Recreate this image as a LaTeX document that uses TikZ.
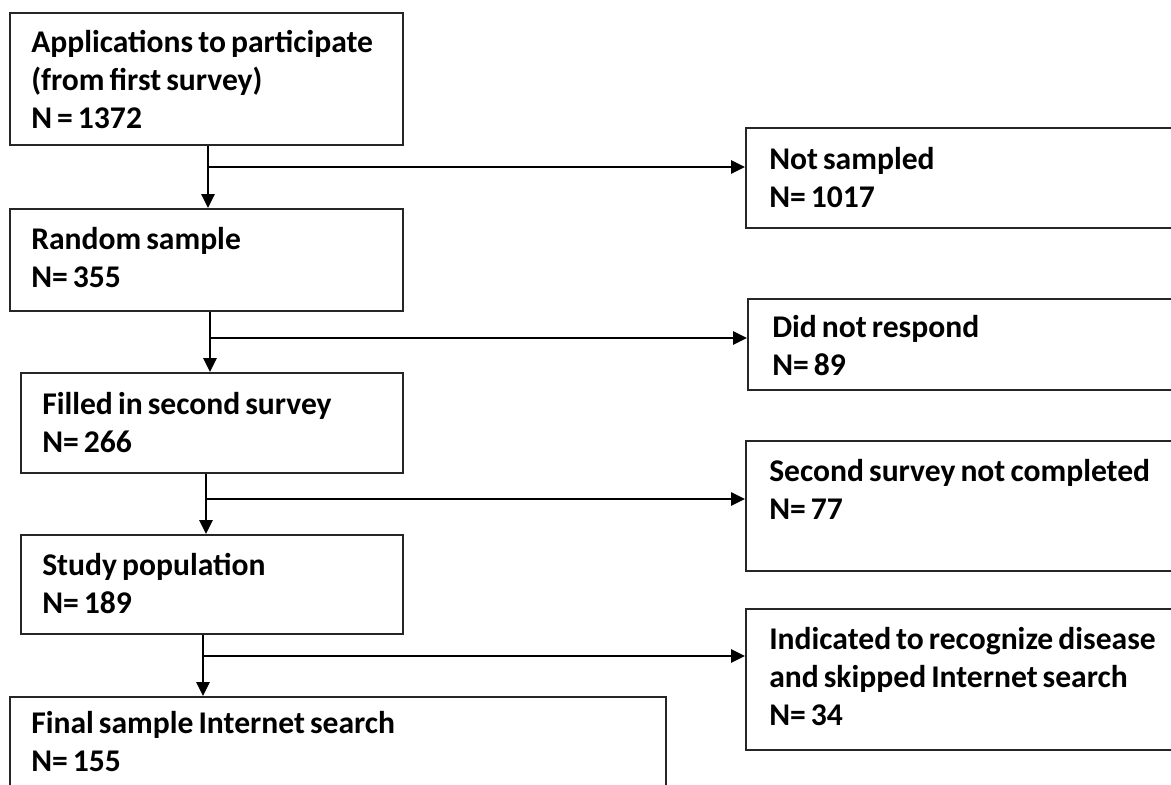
\documentclass[tikz,border=0pt]{standalone}
\usepackage{fontspec}
\setmainfont{Carlito}
\usetikzlibrary{arrows.meta,calc}
\newcommand\myboxfont{\fontsize{23.7pt}{28.5pt}\selectfont\bfseries\spaceskip=0.16em plus 0.05em\relax}
\begin{document}
\begin{tikzpicture}[x=0.75pt,y=-0.75pt,
  box/.style={draw=black!85,line width=1.3pt,inner sep=0pt,anchor=north west},
  txt/.style={anchor=base west,inner sep=0pt,align=left,font=\myboxfont},
  arr/.style={draw=black,line width=1.3pt,-{Triangle[length=10.5pt,width=10pt]}}]
\clip (0,0) rectangle (1171,785);
\fill[white] (0,0) rectangle (1171,785);
% left boxes
\node[box,minimum width=294.75pt,minimum height=99pt] (A) at (9,12) {};
\node[box,minimum width=294.75pt,minimum height=76.5pt] (B) at (9,208) {};
\node[box,minimum width=286.5pt,minimum height=75pt] (C) at (20,372) {};
\node[box,minimum width=286.5pt,minimum height=74.25pt] (D) at (20,534) {};
\node[box,minimum width=492pt,minimum height=90pt] (E) at (9,696) {};
% right boxes
\node[box,minimum width=330pt,minimum height=75pt] (R1) at (745,127) {};
\node[box,minimum width=330pt,minimum height=68.25pt] (R2) at (747,298) {};
\node[box,minimum width=330pt,minimum height=97.5pt] (R3) at (745,440) {};
\node[box,minimum width=330pt,minimum height=105.75pt] (R4) at (745,608) {};
% texts (anchored at the baseline of their last line)
\node[txt] (tA) at (31,128) {Applications to participate\\(from first survey)\\N = 1372};
\node[txt] (tB) at (31,287) {Random sample\\N= 355};
\node[txt] (tC) at (42,452) {Filled in second survey\\N= 266};
\node[txt] (tD) at (42,613) {Study population\\N= 189};
\node[txt] (tE) at (31,771) {Final sample Internet search\\N= 155};
\node[txt] (tR1) at (769,207) {Not sampled\\N= 1017};
\node[txt] (tR2) at (772,375) {Did not respond\\N= 89};
\node[txt] (tR3) at (769,519) {Second survey not completed\\N= 77};
\node[txt] (tR4) at (769,725) {Indicated to recognize disease\\and skipped Internet search\\N= 34};
% branch points
\coordinate (b1) at (208,167);
\coordinate (b2) at (210,338);
\coordinate (b3) at (206,499);
\coordinate (b4) at (203,656);
% connectors
\draw[arr] (A.south -| b1) -- (B.north -| b1);
\draw[arr] (b1) -- (b1 -| R1.west);
\draw[arr] (B.south -| b2) -- (C.north -| b2);
\draw[arr] (b2) -- (b2 -| R2.west);
\draw[arr] (C.south -| b3) -- (D.north -| b3);
\draw[arr] (b3) -- (b3 -| R3.west);
\draw[arr] (D.south -| b4) -- (E.north -| b4);
\draw[arr] (b4) -- (b4 -| R4.west);
\end{tikzpicture}
\end{document}
